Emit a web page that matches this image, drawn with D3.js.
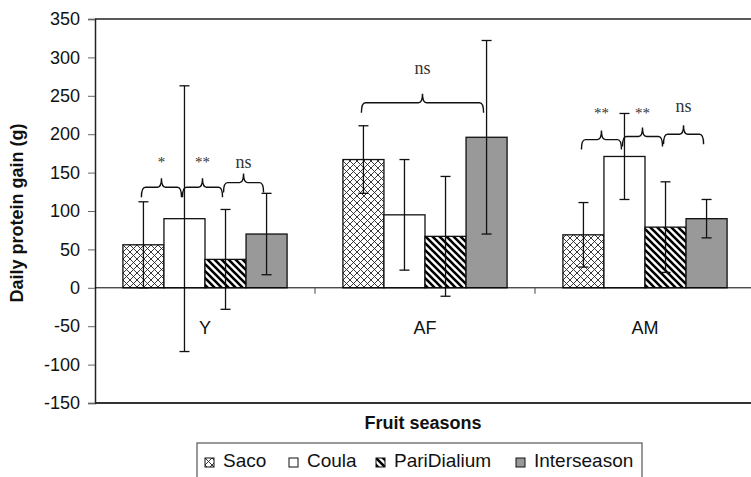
<!DOCTYPE html>
<html>
<head>
<meta charset="utf-8">
<script src="https://cdn.jsdelivr.net/npm/d3@7"></script>
<style>
  body { margin: 0; background: #fff; }
  svg { display: block; font-family: "Liberation Sans", Arial, sans-serif; }
</style>
</head>
<body>
<script>
// seasons and fruit series
var seasons = ["Y", "AF", "AM"];
var series = ["Saco", "Coula", "PariDialium", "Interseason"];

// mean daily protein gain (g), one array per series, in season order
var saco = [56, 167, 69];
var coula = [90, 95, 171];
var pari = [37, 67, 79];
var inter = [70, 196, 90];

// error bar half-lengths
var sacoErr = [56, 44, 42];
var coulaErr = [173, 72, 56];
var pariErr = [65, 78, 59];
var interErr = [53, 126, 25];

var yTicks = [-150, -100, -50, 0, 50, 100, 150, 200, 250, 300, 350];

// significance braces: season, from series index, to series index, brace level, label level, label
var sigSeason = ["Y", "Y", "Y", "AF", "AM", "AM", "AM"];
var sigFrom = [0, 1, 2, 0, 0, 1, 2];
var sigTo = [1, 2, 3, 3, 1, 2, 3];
var sigLevel = [131, 131, 137, 241, 193, 197, 200];
var sigText = ["*", "**", "ns", "ns", "**", "**", "ns"];
var sigTextLevel = [164, 164, 164, 286, 228, 228, 237];

function init() {
    var w = 751, h = 477;
    var left = 95, right = 755, top = 19, bottom = 403;

    var values = [saco, coula, pari, inter];
    var errs = [sacoErr, coulaErr, pariErr, interErr];

    var svg = d3.select("body").append("svg")
        .attr("width", w)
        .attr("height", h);

    // fill patterns
    var defs = svg.append("defs");
    var cross = defs.append("pattern")
        .attr("id", "cross")
        .attr("patternUnits", "userSpaceOnUse")
        .attr("width", 7).attr("height", 7);
    cross.append("rect").attr("width", 7).attr("height", 7).attr("fill", "#fff");
    cross.append("path").attr("d", "M0,0L7,7M7,0L0,7")
        .attr("stroke", "#222").attr("stroke-width", 0.9);

    var diag = defs.append("pattern")
        .attr("id", "diag")
        .attr("patternUnits", "userSpaceOnUse")
        .attr("width", 7).attr("height", 7);
    diag.append("rect").attr("width", 7).attr("height", 7).attr("fill", "#fff");
    diag.append("path").attr("d", "M-2,-2L9,9M-2,5L2,9M5,-2L9,2")
        .attr("stroke", "#000").attr("stroke-width", 2.6);

    var fills = ["url(#cross)", "#fff", "url(#diag)", "#999"];

    var x0 = d3.scaleBand().domain(seasons).range([left, right]);
    var x1 = d3.scaleBand().domain(series).range([0, x0.bandwidth()]).paddingOuter(0.68);
    var y = d3.scaleLinear().domain([-150, 350]).range([bottom, top]);

    // frame lines
    svg.append("line").attr("x1", left).attr("x2", w).attr("y1", top).attr("y2", top)
        .attr("stroke", "#222").attr("stroke-width", 1.5);
    svg.append("line").attr("x1", left).attr("x2", w).attr("y1", bottom).attr("y2", bottom)
        .attr("stroke", "#333").attr("stroke-width", 2);

    // y axis (plain hyphen for negatives, as in the original)
    var yAxis = svg.append("g")
        .attr("transform", "translate(" + left + ",0)")
        .call(d3.axisLeft(y).tickValues(yTicks).tickSize(7).tickPadding(8)
            .tickFormat(function(d) { return String(d); }));
    yAxis.select(".domain").attr("stroke", "#222").attr("stroke-width", 1.5);
    yAxis.selectAll(".tick line").attr("stroke", "#666");
    yAxis.selectAll(".tick text")
        .attr("font-family", "Liberation Sans, Arial, sans-serif")
        .attr("font-size", 18).attr("fill", "#111");

    // bars
    var groups = svg.selectAll("g.season")
        .data(seasons)
        .enter().append("g")
        .attr("class", "season")
        .attr("transform", function(d) { return "translate(" + x0(d) + ",0)"; });

    groups.selectAll("rect")
        .data(function(d, i) {
            return series.map(function(s, j) { return { s: s, j: j, v: values[j][i], e: errs[j][i] }; });
        })
        .enter().append("rect")
        .attr("x", function(d) { return x1(d.s); })
        .attr("y", function(d) { return y(Math.max(0, d.v)); })
        .attr("width", x1.bandwidth())
        .attr("height", function(d) { return Math.abs(y(d.v) - y(0)); })
        .attr("fill", function(d) { return fills[d.j]; })
        .attr("stroke", "#111")
        .attr("stroke-width", 1.3);

    // zero line and category ticks
    svg.append("line").attr("x1", left).attr("x2", w).attr("y1", y(0)).attr("y2", y(0))
        .attr("stroke", "#000").attr("stroke-width", 1);
    svg.selectAll("line.cattick")
        .data(seasons.slice(1))
        .enter().append("line")
        .attr("class", "cattick")
        .attr("x1", function(d) { return x0(d); })
        .attr("x2", function(d) { return x0(d); })
        .attr("y1", y(0)).attr("y2", y(0) + 6)
        .attr("stroke", "#444");

    // error bars
    var eb = groups.selectAll("g.err")
        .data(function(d, i) {
            return series.map(function(s, j) { return { s: s, v: values[j][i], e: errs[j][i] }; });
        })
        .enter().append("g")
        .attr("class", "err")
        .attr("stroke", "#111")
        .attr("stroke-width", 1.3);
    eb.append("line")
        .attr("x1", function(d) { return x1(d.s) + x1.bandwidth() / 2; })
        .attr("x2", function(d) { return x1(d.s) + x1.bandwidth() / 2; })
        .attr("y1", function(d) { return y(d.v + d.e); })
        .attr("y2", function(d) { return y(d.v - d.e); });
    eb.selectAll("line.cap")
        .data(function(d) { return [d.v + d.e, d.v - d.e].map(function(v) { return { s: d.s, v: v }; }); })
        .enter().append("line")
        .attr("class", "cap")
        .attr("x1", function(d) { return x1(d.s) + x1.bandwidth() / 2 - 5; })
        .attr("x2", function(d) { return x1(d.s) + x1.bandwidth() / 2 + 5; })
        .attr("y1", function(d) { return y(d.v); })
        .attr("y2", function(d) { return y(d.v); });

    // category labels
    svg.selectAll("text.cat")
        .data(seasons)
        .enter().append("text")
        .attr("class", "cat")
        .attr("x", function(d) { return x0(d) + x0.bandwidth() / 2; })
        .attr("y", y(0) + 46)
        .attr("text-anchor", "middle")
        .attr("font-size", 18)
        .attr("fill", "#111")
        .text(function(d) { return d; });

    // significance braces
    var sig = sigText.map(function(t, i) {
        var base = x0(sigSeason[i]);
        return {
            xa: base + x1(series[sigFrom[i]]) + x1.bandwidth() / 2 - 2,
            xb: base + x1(series[sigTo[i]]) + x1.bandwidth() / 2 - 3,
            yl: y(sigLevel[i]),
            yt: y(sigTextLevel[i]),
            t: t
        };
    });
    svg.selectAll("path.brace")
        .data(sig)
        .enter().append("path")
        .attr("class", "brace")
        .attr("fill", "none")
        .attr("stroke", "#111")
        .attr("stroke-width", 1.4)
        .attr("d", function(d) {
            var m = (d.xa + d.xb) / 2, yy = d.yl, r = 4, hh = 10, p = 9;
            return "M" + d.xa + "," + (yy + hh) +
                "Q" + d.xa + "," + yy + " " + (d.xa + r) + "," + yy +
                "L" + (m - r) + "," + yy +
                "Q" + m + "," + yy + " " + m + "," + (yy - p) +
                "Q" + m + "," + yy + " " + (m + r) + "," + yy +
                "L" + (d.xb - r) + "," + yy +
                "Q" + d.xb + "," + yy + " " + d.xb + "," + (yy + hh);
        });
    svg.selectAll("text.sig")
        .data(sig)
        .enter().append("text")
        .attr("class", "sig")
        .attr("x", function(d) { return (d.xa + d.xb) / 2; })
        .attr("y", function(d) { return d.yt; })
        .attr("dy", "0.35em")
        .attr("text-anchor", "middle")
        .attr("font-family", "Liberation Serif, Times New Roman, serif")
        .attr("font-size", function(d) { return d.t === "ns" ? 18 : 15; })
        .attr("fill", "#333")
        .text(function(d) { return d.t; });

    // axis titles
    svg.append("text")
        .attr("transform", "translate(23," + ((top + bottom) / 2 + 2) + ") rotate(-90)")
        .attr("text-anchor", "middle")
        .attr("font-weight", "bold")
        .attr("font-size", 18)
        .attr("fill", "#111")
        .text("Daily protein gain (g)");
    svg.append("text")
        .attr("x", 423)
        .attr("y", 429)
        .attr("text-anchor", "middle")
        .attr("font-weight", "bold")
        .attr("font-size", 18)
        .attr("fill", "#111")
        .text("Fruit seasons");

    // legend
    var lg = svg.append("g");
    lg.append("rect")
        .attr("x", 197).attr("y", 443).attr("width", 445).attr("height", 40)
        .attr("fill", "#fff").attr("stroke", "#555").attr("stroke-width", 1.2);
    var legX = [205, 289, 376, 516];
    var item = lg.selectAll("g.item")
        .data(series)
        .enter().append("g")
        .attr("class", "item")
        .attr("transform", function(d, i) { return "translate(" + legX[i] + ",458)"; });
    item.append("rect")
        .attr("y", 0).attr("width", 9).attr("height", 9)
        .attr("fill", function(d, i) { return fills[i]; })
        .attr("stroke", "#111");
    item.append("text")
        .attr("x", 18)
        .attr("y", 9)
        .attr("font-size", 19)
        .attr("fill", "#111")
        .text(function(d) { return d; });
}
window.onload = init;
</script>
</body>
</html>
